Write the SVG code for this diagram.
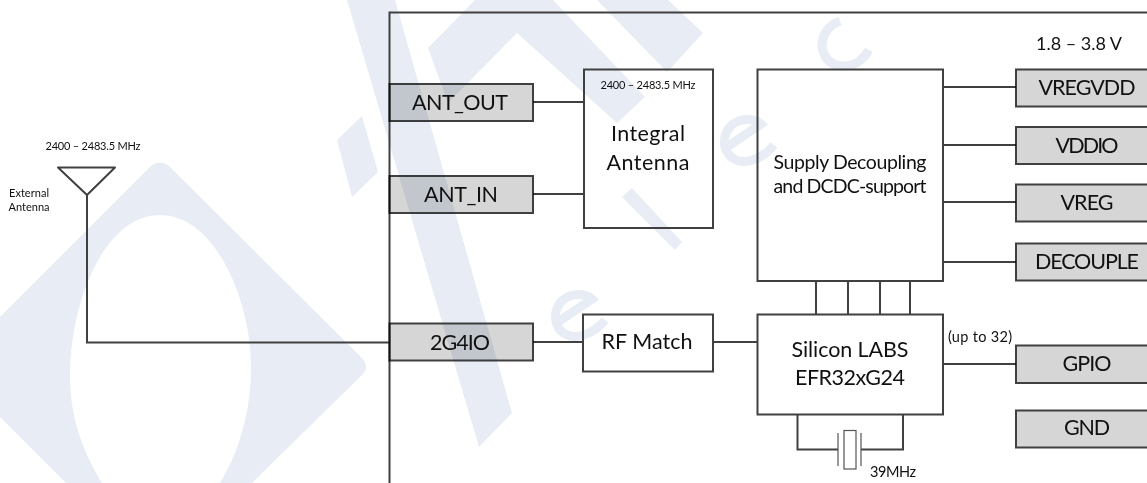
<svg xmlns="http://www.w3.org/2000/svg" width="1147" height="483" viewBox="0 0 1147 483">
<style>
text{font-family:Lato,"Noto Sans",sans-serif;fill:#111;text-anchor:middle}
.lg{font-size:21.500px}
.md{font-size:19.500px}
.sm{font-size:11px}
.sx{font-size:14.500px}
.wm{fill:#e8edf5;stroke:none}
.wl{fill:none;stroke:#e8edf5;stroke-width:9}
.box{fill:none;stroke:#404040;stroke-width:2}
.pin{fill:#d6d6d6;stroke:#404040;stroke-width:2;mix-blend-mode:multiply}
.ln{fill:none;stroke:#404040;stroke-width:2}
.th{fill:none;stroke:#555;stroke-width:1.2}
</style>
<rect width="1147" height="483" fill="#fff"/>
<g id="watermark">
<path class="wm" fill-rule="evenodd" d="M150,167L0,317V417L66,483H252L362,375Q370,367 362,358L170,167Q160,158 150,167ZM160,215C105,215 70,300 70,377C70,420 85,455 102,483H220C240,450 251,410 251,367C251,300 215,215 160,215Z"/>
<polygon class="wm" points="347,0 395,0 512,413 479,447"/>
<polygon class="wm" points="337,140 362,116 378,172 352,197"/>
<polygon class="wm" points="428,48 475,0 553,0 645,97 617,123 517,33 448,103"/>
<polygon class="wm" points="597,0 668,0 703,33 667,72"/>
<polygon class="wm" points="622,197 632,188 682,242 675,250"/>
<path class="wl" d="M727,147L761,124C755,118 742,118 733,124C722,133 722,148 730,156C742,167 762,160 774,145"/>
<path class="wl" d="M558,322L592,299C586,293 573,293 564,299C553,308 553,323 561,331C573,342 593,335 605,320"/>
<path class="wl" d="M840,21Q822,28 822,47Q826,67 846,66Q860,65 869,50"/>
</g>
<g id="connectors">
<path class="ln" d="M87,195V342.500H389"/>
<path class="ln" d="M533,102H584M533,194H584M533,342H583M713,342H757"/>
<path class="ln" d="M943,87H1016M943,145H1016M943,202H1016M943,262H1016M943,364H1016"/>
<path class="ln" d="M816,281V314M848,281V314M880,281V314M910,281V314"/>
<path class="ln" d="M797.500,414V449.500H838M861,449.500H903V414"/>
</g>
<g id="module-frame"><path class="ln" d="M389.500,483V12.500H1147"/></g>
<g id="external-antenna">
<path class="ln" d="M58,167.500H115L87,195Z" stroke-linejoin="round"/>
<text class="sm" x="93" y="150" textLength="95">2400 – 2483.5 MHz</text>
<text class="sm" x="29" y="197" textLength="40">External</text>
<text class="sm" x="29" y="211" textLength="41">Antenna</text>
</g>
<g id="ant-out"><rect class="pin" x="389.500" y="84" width="143.500" height="37"/><text class="lg" x="460" y="110" textLength="96">ANT_OUT</text></g>
<g id="ant-in"><rect class="pin" x="389.500" y="176" width="143.500" height="37"/><text class="lg" x="461" y="202" textLength="74">ANT_IN</text></g>
<g id="g4io"><rect class="pin" x="389.500" y="323.500" width="143.500" height="37"/><text class="lg" x="460" y="350" textLength="60">2G4IO</text></g>
<g id="integral-antenna"><rect class="box" x="584" y="69.500" width="129" height="158.500"/>
<text class="sm" x="648" y="89" textLength="95">2400 – 2483.5 MHz</text>
<text class="lg" x="648" y="141" textLength="74">Integral</text>
<text class="lg" x="648" y="170" textLength="83">Antenna</text></g>
<g id="rf-match"><rect class="box" x="583" y="314.500" width="130" height="57"/><text class="lg" x="647" y="349" textLength="91">RF Match</text></g>
<g id="supply"><rect class="box" x="757.500" y="69.500" width="185.500" height="211.500"/>
<text class="md" x="850" y="169" textLength="153">Supply Decoupling</text>
<text class="md" x="850" y="193" textLength="153">and DCDC-support</text></g>
<g id="silicon"><rect class="box" x="757.500" y="314.500" width="185.500" height="100"/>
<text class="lg" x="850" y="357" textLength="117">Silicon LABS</text>
<text class="lg" x="850" y="385" textLength="110">EFR32xG24</text>
<text class="sx" x="980" y="342" textLength="64">(up to 32)</text></g>
<g id="crystal"><path class="th" d="M838,433V466M861,433V466"/><rect class="th" x="844" y="430.500" width="12" height="38.500"/>
<text class="sx" x="893" y="477" textLength="46">39MHz</text></g>
<text style="font-size:18px" x="1079" y="50" textLength="86">1.8 – 3.8 V</text>
<g id="vregvdd"><rect class="pin" x="1016" y="69.500" width="133" height="37"/><text class="lg" x="1087" y="95" textLength="97">VREGVDD</text></g>
<g id="vddio"><rect class="pin" x="1016" y="127" width="133" height="37"/><text class="lg" x="1087" y="153" textLength="63">VDDIO</text></g>
<g id="vreg"><rect class="pin" x="1016" y="184.500" width="133" height="37"/><text class="lg" x="1087" y="210" textLength="53">VREG</text></g>
<g id="decouple"><rect class="pin" x="1016" y="243.500" width="133" height="37"/><text class="lg" x="1087" y="269" textLength="104">DECOUPLE</text></g>
<g id="gpio"><rect class="pin" x="1016" y="345.500" width="133" height="37.500"/><text class="lg" x="1087" y="371" textLength="49">GPIO</text></g>
<g id="gnd"><rect class="pin" x="1016" y="410.500" width="133" height="37"/><text class="lg" x="1087" y="435" textLength="46">GND</text></g>
</svg>
